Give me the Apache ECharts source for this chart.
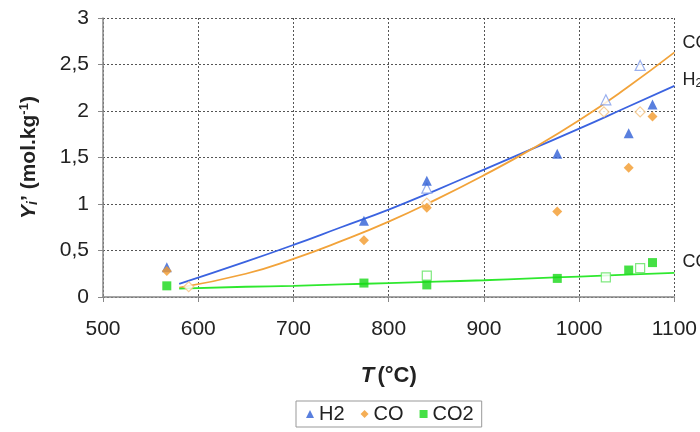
<!DOCTYPE html>
<html><head><meta charset="utf-8">
<script src="https://cdn.jsdelivr.net/npm/echarts@6/dist/echarts.min.js"></script>
<style>html,body{margin:0;padding:0;background:#fff}#c{width:700px;height:432px}</style>
</head><body><div id="c"></div>
<script>
// Axis ticks
var xTicks = [500, 600, 700, 800, 900, 1000, 1100];
var yTicks = [0, 0.5, 1, 1.5, 2, 2.5, 3];

// Measured points (filled markers): temperature, value
var h2T  = [567, 774, 840, 977, 1052, 1077];
var h2Y  = [0.32, 0.82, 1.25, 1.54, 1.76, 2.07];
var coT  = [567, 774, 840, 977, 1052, 1077];
var coY  = [0.28, 0.61, 0.96, 0.92, 1.39, 1.94];
var co2T = [567, 774, 840, 977, 1052, 1077];
var co2Y = [0.12, 0.15, 0.13, 0.20, 0.29, 0.37];

// Open markers
var h2OpenT  = [840, 1028, 1064];
var h2OpenY  = [1.17, 2.12, 2.49];
var coOpenT  = [590, 840, 1026, 1064];
var coOpenY  = [0.11, 1.01, 1.99, 1.99];
var co2OpenT = [840, 1028, 1064];
var co2OpenY = [0.23, 0.21, 0.31];

// Fitted curves
var fitT    = [580, 650, 700, 750, 800, 850, 900, 950, 1000, 1050, 1100];
var h2Fit   = [0.14, 0.38, 0.56, 0.75, 0.94, 1.15, 1.37, 1.59, 1.81, 2.04, 2.27];
var coFit   = [0.10, 0.25, 0.41, 0.60, 0.81, 1.05, 1.31, 1.59, 1.90, 2.25, 2.63];
var co2Fit  = [0.09, 0.11, 0.12, 0.135, 0.15, 0.165, 0.18, 0.20, 0.22, 0.24, 0.26];

function pairs(a, b) { return a.map(function (v, i) { return [v, b[i]]; }); }

var BLUE = '#2f5fd6', ORANGE = '#f39a2b', GREEN = '#16d816';
var LBLUE = '#3b63e0', LORANGE = '#f2a33a', LGREEN = '#2ee82e';
var FONT = 'Liberation Sans, Arial, sans-serif';

var chart = echarts.init(document.getElementById('c'), null, {renderer: 'canvas'});
chart.setOption({
  animation: false,
  backgroundColor: '#fff',
  textStyle: {fontFamily: FONT},
  grid: {left: 103, right: 25, top: 18, bottom: 135},
  xAxis: {
    type: 'value', min: xTicks[0], max: xTicks[xTicks.length - 1], interval: 100,
    axisLine: {onZero: false, lineStyle: {color: '#888', width: 1.5}},
    axisTick: {show: true, length: 5, lineStyle: {color: '#888'}},
    axisLabel: {fontSize: 21, color: '#222', margin: 22, fontFamily: FONT,
      formatter: function (v) { return String(v); }},
    splitLine: {show: true, lineStyle: {type: [2, 2], color: '#555', width: 1}},
    name: '{i|T} {b|(°C)}', nameLocation: 'middle', nameGap: 68,
    nameTextStyle: {rich: {
      i: {fontSize: 22, fontWeight: 'bold', fontStyle: 'italic', color: '#222', fontFamily: FONT},
      b: {fontSize: 22, fontWeight: 'bold', color: '#222', fontFamily: FONT}
    }}
  },
  yAxis: {
    type: 'value', min: yTicks[0], max: yTicks[yTicks.length - 1], interval: 0.5,
    axisLine: {show: true, lineStyle: {color: '#888', width: 1.5}},
    axisTick: {show: true, length: 5, lineStyle: {color: '#888'}},
    axisLabel: {fontSize: 21, color: '#222', margin: 14, fontFamily: FONT,
      formatter: function (v) { return String(v).replace('.', ','); }},
    splitLine: {show: true, lineStyle: {type: [2, 2], color: '#555', width: 1}},
    name: '{i|Y}{s|i}{b|\u2019 (mol.kg}{sup|-1}{b|)}', nameLocation: 'middle', nameGap: 62, nameRotate: 90,
    nameTextStyle: {rich: {
      i: {fontSize: 21, fontWeight: 'bold', fontStyle: 'italic', color: '#222', fontFamily: FONT},
      s: {fontSize: 14, fontWeight: 'bold', fontStyle: 'italic', color: '#222', fontFamily: FONT, padding: [8, 0, 0, 0]},
      b: {fontSize: 21, fontWeight: 'bold', color: '#222', fontFamily: FONT},
      sup: {fontSize: 13, fontWeight: 'bold', color: '#222', fontFamily: FONT, padding: [0, 0, 10, 0]}
    }}
  },
  legend: {
    data: [
      {name: 'H2', icon: 'triangle'},
      {name: 'CO', icon: 'diamond'},
      {name: 'CO2', icon: 'rect'}
    ],
    left: 296, top: 401, itemWidth: 8, itemHeight: 8, itemGap: 16,
    borderColor: '#999', borderWidth: 1, borderRadius: 0, padding: [3, 8, 3, 10],
    textStyle: {fontSize: 20, color: '#222', fontFamily: FONT}
  },
  series: [
    {name: 'H2 fit', type: 'line', data: pairs(fitT, h2Fit), smooth: true, showSymbol: false,
      lineStyle: {color: LBLUE, width: 1.8}, z: 2, silent: true,
      endLabel: {show: true, formatter: '{a|H}{s|2}', offset: [0, -6],
        rich: {a: {fontSize: 18, color: '#222', fontFamily: FONT}, s: {fontSize: 12, color: '#222', fontFamily: FONT, padding: [8, 0, 0, 0]}}}},
    {name: 'CO fit', type: 'line', data: pairs(fitT, coFit), smooth: true, showSymbol: false,
      lineStyle: {color: LORANGE, width: 1.8}, z: 2, silent: true,
      endLabel: {show: true, formatter: '{a|CO}', offset: [0, -9],
        rich: {a: {fontSize: 18, color: '#222', fontFamily: FONT}}}},
    {name: 'CO2 fit', type: 'line', data: pairs(fitT, co2Fit), smooth: true, showSymbol: false,
      lineStyle: {color: LGREEN, width: 1.8}, z: 2, silent: true,
      endLabel: {show: true, formatter: '{a|CO}{s|2}', offset: [0, -11],
        rich: {a: {fontSize: 18, color: '#222', fontFamily: FONT}, s: {fontSize: 12, color: '#222', fontFamily: FONT, padding: [8, 0, 0, 0]}}}},
    {name: 'H2 open', type: 'scatter', data: pairs(h2OpenT, h2OpenY), symbol: 'triangle', symbolSize: 10,
      itemStyle: {color: '#fff', borderColor: '#7f9bea', borderWidth: 1.2}, z: 3},
    {name: 'CO open', type: 'scatter', data: pairs(coOpenT, coOpenY), symbol: 'diamond', symbolSize: 10,
      itemStyle: {color: '#fff', borderColor: '#f5c27e', borderWidth: 1.2}, z: 3},
    {name: 'CO2 open', type: 'scatter', data: pairs(co2OpenT, co2OpenY), symbol: 'rect', symbolSize: 9,
      itemStyle: {color: '#fff', borderColor: '#5fe25f', borderWidth: 1.2}, z: 3},
    {name: 'H2', type: 'scatter', data: pairs(h2T, h2Y), symbol: 'triangle', symbolSize: 10,
      itemStyle: {color: BLUE}, z: 4},
    {name: 'CO', type: 'scatter', data: pairs(coT, coY), symbol: 'diamond', symbolSize: 10,
      itemStyle: {color: ORANGE}, z: 4},
    {name: 'CO2', type: 'scatter', data: pairs(co2T, co2Y), symbol: 'rect', symbolSize: 9,
      itemStyle: {color: GREEN}, z: 4}
  ]
});
</script></body></html>
